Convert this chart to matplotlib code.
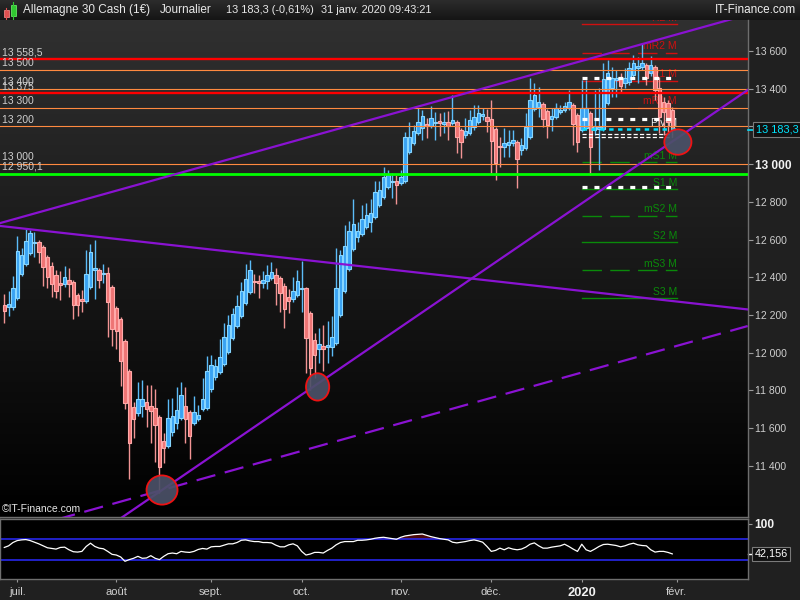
import numpy as np
import matplotlib.pyplot as plt
import matplotlib.transforms as mtransforms
from matplotlib.colors import LinearSegmentedColormap
from matplotlib.patches import Ellipse, Rectangle

plt.rcParams['font.family'] = ['Liberation Sans', 'DejaVu Sans']
plt.rcParams['lines.scale_dashes'] = False

# daily candles, 26 juin 2019 -> 31 janv. 2020
opens = [12253, 12242, 12242, 12290, 12417, 12470, 12529, 12581, 12587, 12560,
         12507, 12459, 12412, 12369, 12364, 12385, 12375, 12306, 12284, 12274,
         12348, 12438, 12438, 12417, 12422, 12348, 12237, 12178, 12062, 11902,
         11711, 11680, 11717, 11738, 11717, 11706, 11658, 11531, 11505, 11579,
         11627, 11653, 11717, 11685, 11627, 11648, 11701, 11706, 11807, 11871,
         11897, 11940, 12003, 12078, 12141, 12194, 12263, 12322, 12380, 12380,
         12369, 12380, 12396, 12412, 12396, 12353, 12295, 12284, 12306, 12338,
         12343, 12210, 12067, 12019, 12035, 12030, 12030, 12051, 12199, 12327,
         12443, 12550, 12613, 12629, 12666, 12693, 12719, 12783, 12825, 12879,
         12905, 12910, 12900, 12910, 13065, 13112, 13165, 13192, 13213, 13202,
         13218, 13229, 13213, 13223, 13218, 13223, 13181, 13154, 13165, 13197,
         13223, 13255, 13250, 13239, 13186, 13096, 13091, 13101, 13112, 13117,
         13075, 13085, 13144, 13292, 13303, 13319, 13282, 13239, 13250, 13276,
         13287, 13298, 13314, 13260, 13181, 13192, 13271, 13181, 13186, 13186,
         13324, 13404, 13446, 13457, 13430, 13436, 13473, 13510, 13515, 13526,
         13483, 13515, 13404, 13329, 13324, 13287]
highs = [12311, 12327, 12406, 12619, 12555, 12656, 12651, 12640, 12597, 12571,
         12518, 12481, 12438, 12433, 12459, 12449, 12385, 12316, 12332, 12544,
         12576, 12597, 12449, 12470, 12454, 12359, 12247, 12189, 12072, 11913,
         11738, 11844, 11855, 11828, 11828, 11807, 11669, 11573, 11754, 11759,
         11818, 11844, 11818, 11696, 11770, 11722, 11865, 11982, 11987, 11966,
         12072, 12157, 12199, 12237, 12306, 12375, 12470, 12491, 12417, 12412,
         12433, 12465, 12481, 12449, 12406, 12369, 12338, 12401, 12438, 12486,
         12350, 12221, 12104, 12131, 12146, 12168, 12194, 12555, 12544, 12677,
         12698, 12815, 12693, 12783, 12794, 12815, 12910, 12910, 12985, 12969,
         12953, 12942, 12969, 13172, 13223, 13207, 13298, 13287, 13245, 13308,
         13276, 13271, 13276, 13282, 13367, 13234, 13192, 13245, 13287, 13314,
         13314, 13298, 13292, 13340, 13197, 13144, 13192, 13181, 13181, 13128,
         13139, 13271, 13457, 13430, 13409, 13329, 13292, 13298, 13324, 13314,
         13329, 13393, 13324, 13271, 13446, 13446, 13282, 13393, 13404, 13536,
         13552, 13515, 13499, 13483, 13510, 13542, 13579, 13568, 13642, 13536,
         13573, 13526, 13462, 13356, 13340, 13303]
lows = [12157, 12194, 12226, 12279, 12406, 12459, 12518, 12507, 12475, 12353,
        12343, 12295, 12290, 12279, 12348, 12295, 12178, 12194, 12215, 12263,
        12338, 12284, 12343, 12369, 12083, 12035, 12019, 11823, 11700, 11330,
        11547, 11664, 11658, 11605, 11520, 11420, 11255, 11414, 11494, 11558,
        11595, 11643, 11520, 11435, 11616, 11637, 11690, 11696, 11791, 11855,
        11887, 11929, 11993, 12067, 12131, 12184, 12253, 12311, 12316, 12290,
        12343, 12338, 12385, 12253, 12215, 12131, 12210, 12269, 12295, 12215,
        11892, 11802, 11865, 11945, 11903, 11945, 11982, 12040, 12189, 12316,
        12433, 12539, 12587, 12619, 12656, 12640, 12709, 12772, 12815, 12868,
        12820, 12788, 12889, 12900, 13054, 13101, 13154, 13128, 13139, 13192,
        13128, 13149, 13165, 13128, 13207, 13059, 13032, 13139, 13154, 13181,
        13213, 13234, 13170, 12953, 12916, 12985, 13038, 13038, 13096, 12873,
        13048, 13075, 13133, 13282, 13250, 13197, 13139, 13176, 13239, 13266,
        13276, 13287, 13101, 13064, 13170, 13181, 12942, 13154, 12969, 13176,
        13314, 13356, 13356, 13383, 13404, 13420, 13457, 13430, 13499, 13420,
        13467, 13340, 13165, 13154, 13170, 13144]
closes = [12221, 12258, 12343, 12539, 12518, 12592, 12635, 12587, 12534, 12454,
          12401, 12364, 12327, 12359, 12401, 12364, 12253, 12253, 12274, 12417,
          12534, 12449, 12385, 12422, 12269, 12125, 12115, 11955, 11733, 11520,
          11648, 11754, 11754, 11701, 11690, 11616, 11393, 11494, 11653, 11664,
          11696, 11775, 11648, 11558, 11685, 11669, 11754, 11902, 11934, 11929,
          11977, 12083, 12146, 12205, 12247, 12327, 12391, 12438, 12375, 12369,
          12385, 12412, 12428, 12369, 12316, 12231, 12274, 12327, 12380, 12343,
          12078, 11918, 11987, 12046, 12019, 12040, 12083, 12343, 12518, 12566,
          12645, 12682, 12645, 12709, 12730, 12741, 12852, 12863, 12932, 12942,
          12910, 12889, 12932, 13144, 13144, 13176, 13223, 13255, 13202, 13245,
          13223, 13218, 13223, 13202, 13234, 13144, 13117, 13176, 13234, 13250,
          13271, 13266, 13229, 13123, 13006, 13091, 13112, 13117, 13128, 13027,
          13101, 13197, 13340, 13367, 13329, 13239, 13207, 13255, 13298, 13287,
          13308, 13329, 13213, 13117, 13298, 13298, 13091, 13202, 13197, 13451,
          13483, 13457, 13457, 13414, 13457, 13510, 13536, 13520, 13536, 13457,
          13526, 13393, 13250, 13276, 13223, 13183.3]

rsi = [54.4, 57.5, 63.8, 67.5, 68.8, 69.4, 67.5, 64.4, 61.3, 57.5,
       53.8, 52.5, 51.3, 54.4, 55.0, 50.0, 46.3, 45.6, 46.9, 56.3,
       62.5, 56.3, 53.1, 51.9, 46.9, 41.3, 40.0, 36.3, 28.1, 31.3,
       33.8, 37.5, 33.8, 34.4, 38.8, 33.8, 31.3, 37.5, 42.5, 43.8,
       42.5, 46.9, 45.6, 45.0, 46.9, 50.6, 52.5, 51.3, 55.6, 56.3,
       56.3, 58.8, 61.3, 61.3, 63.8, 68.1, 68.8, 66.9, 65.6, 65.6,
       63.8, 63.8, 63.1, 58.8, 55.6, 55.6, 59.4, 61.3, 57.5, 46.9,
       40.0, 41.9, 45.0, 45.0, 43.8, 48.8, 53.1, 59.4, 63.8, 65.6,
       65.6, 65.6, 68.1, 68.1, 68.8, 70.0, 71.9, 73.1, 73.8, 72.5,
       71.3, 70.0, 73.8, 76.3, 77.5, 78.8, 79.4, 80.0, 77.5, 75.0,
       73.1, 71.3, 70.0, 68.8, 64.4, 63.1, 64.4, 65.6, 67.5, 68.8,
       66.9, 64.4, 56.3, 46.9, 48.8, 53.1, 50.0, 53.8, 51.3, 50.0,
       51.3, 55.0, 60.6, 63.1, 57.5, 53.1, 53.1, 55.0, 56.3, 57.5,
       60.6, 56.3, 51.3, 46.9, 60.6, 50.0, 46.9, 51.3, 56.3, 60.0,
       60.6, 59.4, 58.1, 55.6, 57.5, 60.6, 62.5, 59.4, 58.1, 57.5,
       50.0, 45.6, 46.9, 46.9, 45.0, 42.156]

month_pos = [3, 26, 48, 69, 92, 113, 134, 156]
month_labels = ['juil.', 'août', 'sept.', 'oct.', 'nov.', 'déc.', '2020', 'févr.']
price_ticks = list(range(11400, 13601, 200))

levels = [13558.5, 13500, 13400, 13375, 13300, 13200, 13000, 12950.1]
level_labels = ['13 558,5', '13 500', '13 400', '13 375', '13 300', '13 200', '13 000', '12 950,1']
level_kind = ['red', 'orange', 'orange', 'red', 'orange', 'orange', 'orange', 'green']

pivot_names = ['R2 M', 'mR2 M', 'R1 M', 'mR1 M', 'Piv M', 'mS1 M', 'S1 M', 'mS2 M', 'S2 M', 'mS3 M', 'S3 M']
pivot_values = [13742, 13591, 13441, 13299, 13185, 13010, 12866, 12725, 12585, 12438, 12288]
white_levels = [13455, 13238, 12880]
white_thin_levels = [13160, 13145]

# trend lines as two anchors (bar index, price)
trend_upper = [(-1.0, 12687), (167.2, 13759)]
trend_down = [(-1.0, 12672), (172.5, 12229)]
trend_support = [(36.6, 11271), (172.5, 13393)]
trend_support2 = [(36.6, 11271), (172.5, 12141)]
circles = [(36.6, 11271), (72.7, 11818), (156.3, 13117)]

last_price = 13183.3
last_rsi = 42.156

XMIN, XMAX = -1.0, 172.5
BG = '#202020'
GRID = '#6e6e6e'
TXT = '#cfcfcf'

fig = plt.figure(figsize=(8, 6), dpi=100)
fig.patch.set_facecolor(BG)

# header bar
hdr = fig.add_axes([0, 580 / 600, 1, 20 / 600])
hdr.imshow(np.linspace(0, 1, 64).reshape(-1, 1), extent=[0, 1, 0, 1], aspect='auto',
           cmap=LinearSegmentedColormap.from_list('h', ['#2c2c2c', '#151515']))
hdr.set_xlim(0, 1)
hdr.set_ylim(0, 1)
hdr.axis('off')
hdr.add_patch(Rectangle((3.5 / 800, 1 - 17 / 20), 5 / 800, 7 / 20, fc='#e05050', ec='#ff9090', lw=0.5))
hdr.plot([6 / 800, 6 / 800], [1 - 19 / 20, 1 - 8 / 20], color='#e05050', lw=0.8)
hdr.add_patch(Rectangle((10.5 / 800, 1 - 16 / 20), 5 / 800, 11 / 20, fc='#30c830', ec='#70ff70', lw=0.5))
hdr.plot([13 / 800, 13 / 800], [1 - 19 / 20, 1 - 2 / 20], color='#30c830', lw=0.8)
for xp, s, fs in [(23, 'Allemagne 30 Cash (1€)', 8.5), (160, 'Journalier', 8.5),
                  (226, '13 183,3 (-0,61%)', 7.9), (321, '31 janv. 2020 09:43:21', 7.9)]:
    hdr.text(xp / 800, 0.5, s, color='#e8e8e8', fontsize=fs, va='center', ha='left')
hdr.text(796 / 800, 0.5, 'IT-Finance.com', color='#f0f0f0', fontsize=8.5, va='center', ha='right')

# main price panel
ax = fig.add_axes([0, 83.3 / 600, 747.7 / 800, 496.7 / 600])
ax.imshow(np.linspace(0, 1, 256).reshape(-1, 1), extent=[0, 1, 0, 1], transform=ax.transAxes,
          aspect='auto', zorder=0, cmap=LinearSegmentedColormap.from_list('b', ['#303030', '#000000']))

x = np.arange(len(opens))
o, h, l, c = (np.array(v, dtype=float) for v in (opens, highs, lows, closes))
up = c >= o
dn = ~up
ax.vlines(x[up], l[up], h[up], color='#5cbcf8', lw=1, zorder=3)
ax.vlines(x[dn], l[dn], h[dn], color='#f29494', lw=1, zorder=3)
ax.bar(x[up], c[up] - o[up], bottom=o[up], width=0.8, color='#38a2f2',
       edgecolor='#86d6ff', lw=0.8, zorder=3.5)
ax.bar(x[dn], o[dn] - c[dn], bottom=c[dn], width=0.8, color='#ee7474',
       edgecolor='#ffa9a9', lw=0.8, zorder=3.5)

# monthly pivots (below the candles)
p0, p1 = month_pos[6], 156.1
for name, val in zip(pivot_names, pivot_values):
    if name.startswith('Piv'):
        ax.plot([p0, p1], [val, val], color='#00e0ff', lw=1.8, dashes=(3.2, 3.2), zorder=4)
        col = '#f0f0f0'
    else:
        col = '#d01010' if 'R' in name else '#0a8a0a'
        if name.startswith('m'):
            ax.plot([p0, p1], [val, val], color=col, lw=1, dashes=(14, 6), zorder=2)
        else:
            ax.plot([p0, p1], [val, val], color=col, lw=1, zorder=2)
    ax.text(p1, val + 8, name, color=col, fontsize=7.5, ha='right', va='bottom', zorder=2, clip_on=True)

for val in white_levels:
    ax.plot([p0, 155], [val, val], color='white', lw=2.3, dashes=(3.6, 5.0), zorder=4.5)
for val in white_thin_levels:
    ax.plot([p0, 155], [val, val], color='white', lw=0.9, dashes=(3.0, 1.6), zorder=4.5)

# horizontal levels
styles = {'red': ('#ff0000', 1.7), 'orange': ('#ff8a40', 0.8), 'green': ('#00ff00', 2.0)}
for val, lab, kind in zip(levels, level_labels, level_kind):
    col, lw = styles[kind]
    ax.axhline(val, color=col, lw=lw, zorder=5)
    ax.text(-0.6, val + 9, lab, color=TXT, fontsize=7.5, ha='left', va='bottom', zorder=5)

# trend lines
xs = np.array([XMIN, XMAX])
for (xa, ya), (xb, yb), dash in [(*trend_upper, None), (*trend_down, None),
                                 (*trend_support, None), (*trend_support2, (14, 7))]:
    ys = ya + (yb - ya) / (xb - xa) * (xs - xa)
    if dash:
        ax.plot(xs, ys, color='#8a12d2', lw=1.6, dashes=dash, zorder=6)
    else:
        ax.plot(xs, ys, color='#8a12d2', lw=1.6, zorder=6)

for (cx, cy), (w, hh) in zip(circles, [(7.2, 155), (5.4, 145), (6.3, 135)]):
    ax.add_patch(Ellipse((cx, cy), w, hh, fc='#4b5168', ec='#ff1010', lw=1.3, alpha=0.92, zorder=7))

ax.set_xlim(XMIN, XMAX)
ax.set_ylim(11129.5, 13764.5)
ax.set_xticks([])
ax.yaxis.tick_right()
ax.set_yticks(price_ticks)
# the 13 200 label sits under the last-price box
ax.set_yticklabels(['' if v == 13200 else f'{v:,}'.replace(',', ' ') for v in price_ticks])
ax.tick_params(axis='y', direction='out', length=3.6, width=0.8, color='#9a9a9a',
               labelcolor=TXT, labelsize=7.5, pad=1.5)
for t, v in zip(ax.get_yticklabels(), price_ticks):
    if v == 13000:
        t.set_fontweight('bold')
        t.set_fontsize(8.6)
        t.set_color('#f2f2f2')
for s in ['top', 'left']:
    ax.spines[s].set_visible(False)
for s in ['right', 'bottom']:
    ax.spines[s].set_color(GRID)
    ax.spines[s].set_linewidth(1)

blend = mtransforms.blended_transform_factory(ax.transAxes, ax.transData)
ax.plot([1.0, 1.0075], [last_price, last_price], color='#00e0ff', lw=1.2, transform=blend,
        clip_on=False, zorder=20)
ax.text(1.0105, last_price, '13 183,3', transform=blend, color='#00e6ff', fontsize=7.8,
        ha='left', va='center', zorder=20, clip_on=False,
        bbox=dict(boxstyle='square,pad=0.22', fc='#101010', ec='#7a7a7a', lw=0.8))
ax.text(0.003, 0.006, '©IT-Finance.com', transform=ax.transAxes, color='#e6e6e6',
        fontsize=7.5, ha='left', va='bottom', zorder=8)

# RSI panel
rax = fig.add_axes([0, 20.7 / 600, 747.7 / 800, 60 / 600])
rax.set_facecolor('#000000')
rv = np.array(rsi)
rax.fill_between(x, 70, rv, where=rv > 70, interpolate=True, color='#4a0a0a', lw=0, zorder=1)
rax.axhline(70, color='#2a2aff', lw=1.1, zorder=2)
rax.axhline(30, color='#2a2aff', lw=1.1, zorder=2)
rax.plot(x, rv, color='white', lw=0.9, zorder=3)
rax.set_xlim(XMIN, XMAX)
rax.set_ylim(-6.2, 108)
rax.yaxis.tick_right()
rax.set_yticks([100])
rax.set_yticklabels(['100'])
rax.tick_params(axis='y', direction='out', length=3.2, width=0.8, color='#9a9a9a',
                labelcolor='#f2f2f2', labelsize=8.6, pad=1.5)
for t in rax.get_yticklabels():
    t.set_fontweight('bold')
rax.set_xticks(month_pos)
rax.set_xticklabels(month_labels)
rax.tick_params(axis='x', direction='out', length=2.5, width=0.8, color='#9a9a9a',
                labelcolor=TXT, labelsize=8, pad=3)
for t in rax.get_xticklabels():
    if t.get_text() == '2020':
        t.set_fontweight('bold')
        t.set_fontsize(9.3)
        t.set_color('#f2f2f2')
for s in rax.spines.values():
    s.set_color(GRID)
    s.set_linewidth(1)

rblend = mtransforms.blended_transform_factory(rax.transAxes, rax.transData)
rax.plot([1.0, 1.0065], [last_rsi, last_rsi], color='white', lw=1, transform=rblend, clip_on=False)
rax.text(1.009, last_rsi, '42,156', transform=rblend, color='white', fontsize=7.8,
         ha='left', va='center', clip_on=False, zorder=20,
         bbox=dict(boxstyle='square,pad=0.2', fc='#101010', ec='#7a7a7a', lw=0.8))

fig.savefig('out.png', dpi=100, facecolor=fig.get_facecolor())
